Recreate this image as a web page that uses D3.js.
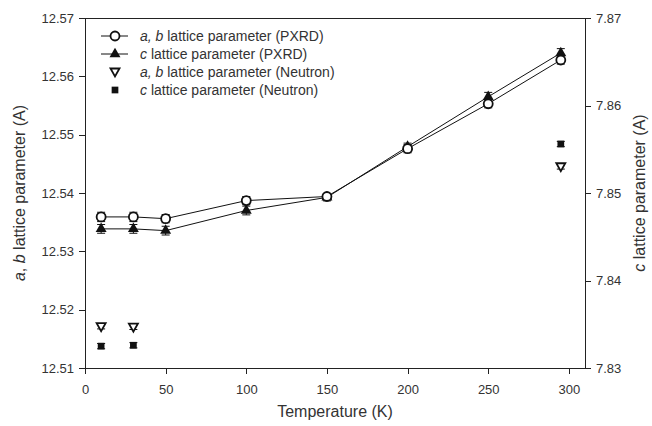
<!DOCTYPE html>
<html lang="en">
<head>
  <meta charset="UTF-8">
  <title>Lattice parameters vs temperature</title>
  <script src="https://d3js.org/d3.v7.min.js"></script>
  <style>
    body {
      margin: 0;
      background: #fff;
      font-family: "Liberation Sans", Arial, sans-serif;
    }
    svg { display: block; }
    .axis path, .axis line { stroke: #222; stroke-width: 1px; shape-rendering: crispEdges; }
    .axis text { font-size: 13px; fill: #333; font-family: "Liberation Sans", Arial, sans-serif; }
    .label { font-size: 16px; fill: #333; }
    .legend text { font-size: 14px; fill: #333; }
  </style>
</head>
<body>
  <svg width="652" height="426"></svg>
  <script>
    // temperatures (K)
    const tempsPXRD = [10, 30, 50, 100, 150, 200, 250, 295];
    const tempsNeutron = [10, 30, 295];

    // a, b lattice parameter (left axis, A)
    const abPXRD = [12.5359, 12.5359, 12.5356, 12.5387, 12.5394, 12.5476, 12.5553, 12.5628];
    const abPXRDErr = [0.0008, 0.0008, 0.0007, 0.0007, 0.0005, 0.0007, 0.0007, 0.0007];
    const abNeutron = [12.5171, 12.5170, 12.5445];
    const abNeutronErr = [0.0004, 0.0004, 0.0004];

    // c lattice parameter (right axis, A)
    const cPXRD = [7.8459, 7.8459, 7.8457, 7.8480, 7.8495, 7.8553, 7.8610, 7.8660];
    const cPXRDErr = [0.0005, 0.0005, 0.0005, 0.0005, 0.0004, 0.0004, 0.0005, 0.0005];
    const cNeutron = [7.8325, 7.8326, 7.8556];
    const cNeutronErr = [0.0003, 0.0003, 0.0003];

    const xTicks = [0, 50, 100, 150, 200, 250, 300];
    const yLeftTicks = [12.51, 12.52, 12.53, 12.54, 12.55, 12.56, 12.57];
    const yRightTicks = [7.83, 7.84, 7.85, 7.86, 7.87];

    const legendLabels = [
      {pre: "a, b", post: " lattice parameter (PXRD)"},
      {pre: "c", post: " lattice parameter (PXRD)"},
      {pre: "a, b", post: " lattice parameter (Neutron)"},
      {pre: "c", post: " lattice parameter (Neutron)"}
    ];

    const svg = d3.select("svg"),
          margin = {top: 18, right: 67, bottom: 58, left: 85},
          width = +svg.attr("width") - margin.left - margin.right,
          height = +svg.attr("height") - margin.top - margin.bottom,
          chart = svg.append("g").attr("transform", `translate(${margin.left},${margin.top})`);

    const x = d3.scaleLinear().domain([0, 310]).range([0, width]);
    const yL = d3.scaleLinear().domain([12.51, 12.57]).range([height, 0]);
    const yR = d3.scaleLinear().domain([7.83, 7.87]).range([height, 0]);

    // frame top line
    chart.append("line")
      .attr("x1", 0).attr("x2", width)
      .attr("y1", 0.5).attr("y2", 0.5)
      .attr("stroke", "#222");

    chart.append("g")
      .attr("class", "axis")
      .attr("transform", `translate(0,${height})`)
      .call(d3.axisBottom(x).tickValues(xTicks).tickSize(6).tickSizeOuter(0).tickPadding(11));

    chart.append("g")
      .attr("class", "axis")
      .call(d3.axisLeft(yL).tickValues(yLeftTicks).tickFormat(d3.format(".2f")).tickSize(6).tickSizeOuter(0).tickPadding(5));

    chart.append("g")
      .attr("class", "axis")
      .attr("transform", `translate(${width},0)`)
      .call(d3.axisRight(yR).tickValues(yRightTicks).tickFormat(d3.format(".2f")).tickSize(6).tickSizeOuter(0).tickPadding(5));

    // axis titles
    svg.append("text")
      .attr("class", "label")
      .attr("x", margin.left + width / 2)
      .attr("y", 417)
      .attr("text-anchor", "middle")
      .text("Temperature (K)");

    const leftTitle = svg.append("text")
      .attr("class", "label")
      .attr("transform", `translate(25,${margin.top + height / 2}) rotate(-90)`)
      .attr("text-anchor", "middle");
    leftTitle.append("tspan").attr("font-style", "italic").text("a");
    leftTitle.append("tspan").text(", ");
    leftTitle.append("tspan").attr("font-style", "italic").text("b");
    leftTitle.append("tspan").text(" lattice parameter (A)");

    const rightTitle = svg.append("text")
      .attr("class", "label")
      .attr("transform", `translate(645,${margin.top + height / 2}) rotate(-90)`)
      .attr("text-anchor", "middle");
    rightTitle.append("tspan").attr("font-style", "italic").text("c");
    rightTitle.append("tspan").text(" lattice parameter (A)");

    // series
    const pxrdAB = tempsPXRD.map((t, i) => ({t, v: abPXRD[i], e: abPXRDErr[i]}));
    const pxrdC = tempsPXRD.map((t, i) => ({t, v: cPXRD[i], e: cPXRDErr[i]}));
    const neuAB = tempsNeutron.map((t, i) => ({t, v: abNeutron[i], e: abNeutronErr[i]}));
    const neuC = tempsNeutron.map((t, i) => ({t, v: cNeutron[i], e: cNeutronErr[i]}));

    function errorBars(data, y) {
      const g = chart.append("g").attr("stroke", "#111").attr("stroke-width", 1);
      data.forEach(d => {
        const cx = x(d.t), y1 = y(d.v - d.e), y2 = y(d.v + d.e);
        g.append("line").attr("x1", cx).attr("x2", cx).attr("y1", y1).attr("y2", y2);
        g.append("line").attr("x1", cx - 4).attr("x2", cx + 4).attr("y1", y1).attr("y2", y1);
        g.append("line").attr("x1", cx - 4).attr("x2", cx + 4).attr("y1", y2).attr("y2", y2);
      });
    }

    const line = y => d3.line().x(d => x(d.t)).y(d => y(d.v));

    chart.append("path").datum(pxrdC)
      .attr("fill", "none").attr("stroke", "#111").attr("stroke-width", 1)
      .attr("d", line(yR));
    chart.append("path").datum(pxrdAB)
      .attr("fill", "none").attr("stroke", "#111").attr("stroke-width", 1)
      .attr("d", line(yL));

    errorBars(pxrdC, yR);
    errorBars(pxrdAB, yL);
    errorBars(neuAB, yL);
    errorBars(neuC, yR);

    const triUp = d3.symbol().type(d3.symbolTriangle).size(52);
    const square = d3.symbol().type(d3.symbolSquare).size(45);
    const triDown = "M-4.5,-3.5L4.5,-3.5L0,4.5Z";

    chart.selectAll(".tri-up").data(pxrdC).enter().append("path")
      .attr("transform", d => `translate(${x(d.t)},${yR(d.v)})`)
      .attr("d", triUp).attr("fill", "#111");

    chart.selectAll(".circ").data(pxrdAB).enter().append("circle")
      .attr("cx", d => x(d.t)).attr("cy", d => yL(d.v)).attr("r", 4.5)
      .attr("fill", "#fff").attr("stroke", "#111").attr("stroke-width", 1.8);

    chart.selectAll(".tri-down").data(neuAB).enter().append("path")
      .attr("transform", d => `translate(${x(d.t)},${yL(d.v)})`)
      .attr("d", triDown).attr("fill", "#fff").attr("stroke", "#111").attr("stroke-width", 1.8);

    chart.selectAll(".sq").data(neuC).enter().append("path")
      .attr("transform", d => `translate(${x(d.t)},${yR(d.v)})`)
      .attr("d", square).attr("fill", "#111");

    // legend
    const legend = svg.append("g").attr("class", "legend");
    const rowY = [36, 54, 72, 90];
    legendLabels.forEach((lab, i) => {
      const gy = rowY[i];
      if (i < 2) {
        legend.append("line").attr("x1", 101).attr("x2", 128).attr("y1", gy).attr("y2", gy)
          .attr("stroke", "#111");
      }
      if (i === 0) {
        legend.append("circle").attr("cx", 115).attr("cy", gy).attr("r", 4.5)
          .attr("fill", "#fff").attr("stroke", "#111").attr("stroke-width", 1.8);
      } else if (i === 1) {
        legend.append("path").attr("transform", `translate(115,${gy})`).attr("d", triUp).attr("fill", "#111");
      } else if (i === 2) {
        legend.append("path").attr("transform", `translate(115,${gy})`).attr("d", triDown)
          .attr("fill", "#fff").attr("stroke", "#111").attr("stroke-width", 1.8);
      } else {
        legend.append("path").attr("transform", `translate(115,${gy})`).attr("d", square).attr("fill", "#111");
      }
      const t = legend.append("text").attr("x", 140).attr("y", gy + 5);
      t.append("tspan").attr("font-style", "italic").text(lab.pre);
      t.append("tspan").text(lab.post);
    });
  </script>
</body>
</html>
